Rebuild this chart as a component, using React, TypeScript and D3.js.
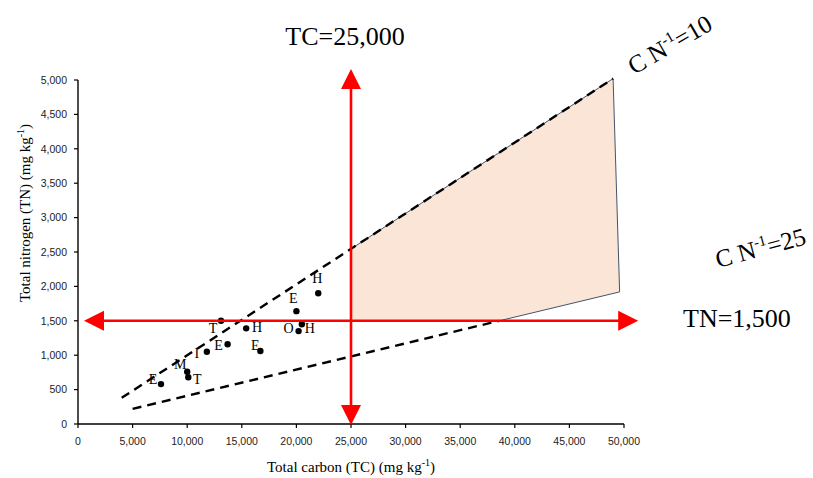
import React from "react";
import * as d3 from "d3";

const W = 813;
const H = 478;

// soil samples: land-use code, total carbon and total nitrogen (mg kg-1)
const sampleCodes = ["E", "M", "T", "I", "E", "T", "H", "E", "E", "H", "O", "H"];
const sampleTC = [7600, 10000, 10100, 11800, 13700, 13100, 15400, 16700, 20000, 22000, 20200, 20500];
const sampleTN = [580, 760, 680, 1050, 1160, 1500, 1390, 1060, 1640, 1900, 1350, 1450];

// small nudges (px) so each letter sits beside its dot
const labelNudge = [
  [-8, -5], [-7, -8], [9, 2], [-10, 1], [-9, 1], [-8, 7],
  [11, -1], [-5, -6], [-3, -13], [-1, -15], [-10, -3], [8, 4],
];

const xTicks = d3.range(0, 50001, 5000);
const yTicks = d3.range(0, 5001, 500);

// C:N guide lines, end points as [TC, TN]
const cn10TC = [4000, 49000];
const cn10TN = [380, 5020];
const cn25TC = [5000, 49600];
const cn25TN = [220, 1920];

const tcThreshold = 25000;
const tnThreshold = 1500;

const serif = "'Liberation Serif', 'Times New Roman', serif";
const sans = "'Liberation Sans', Arial, sans-serif";
const RED = "#ff0000";

const x = d3.scaleLinear().domain([0, 50000]).range([78, 624]);
const y = d3.scaleLinear().domain([0, 5000]).range([424, 80]);

// TN on a guide line at a given TC, and TC at a given TN
const tnAt = (tcs: number[], tns: number[], tc: number) =>
  tns[0] + ((tc - tcs[0]) * (tns[1] - tns[0])) / (tcs[1] - tcs[0]);
const tcAt = (tcs: number[], tns: number[], tn: number) =>
  tcs[0] + ((tn - tns[0]) * (tcs[1] - tcs[0])) / (tns[1] - tns[0]);

export default function App() {
  const line = d3.line<number[]>().x((d) => x(d[0])).y((d) => y(d[1]));

  const upperAt25 = tnAt(cn10TC, cn10TN, tcThreshold);
  const lowerAt15 = tcAt(cn25TC, cn25TN, tnThreshold);

  const zone = [
    [tcThreshold, upperAt25],
    [cn10TC[1], cn10TN[1]],
    [cn25TC[1], cn25TN[1]],
    [lowerAt15, tnThreshold],
    [tcThreshold, tnThreshold],
  ];
  const zoneEdge = zone.slice(0, 4);

  const upperDash = [
    [cn10TC[0], cn10TN[0]],
    [cn10TC[1], cn10TN[1]],
  ];
  const lowerDash = [
    [cn25TC[0], cn25TN[0]],
    [lowerAt15, tnThreshold],
  ];

  // red threshold arrows
  const hy = y(tnThreshold);
  const hx0 = x(550);
  const hx1 = x(51300);
  const vx = x(tcThreshold);
  const vy0 = y(5160);
  const vy1 = y(-15);
  const head = 20;
  const hw = 10;

  return (
    <svg width={W} height={H} style={{ position: "absolute", left: 0, top: 0, background: "#fff" }}>
      {/* target zone */}
      <path d={line(zone) + "Z"} fill="#fbe5d6" stroke="none" />
      <path d={line(zoneEdge) ?? ""} fill="none" stroke="#44546a" strokeWidth={1} />

      {/* C:N guide lines */}
      <path d={line(upperDash) ?? ""} fill="none" stroke="#000" strokeWidth={2.4} strokeDasharray="9,6" />
      <path d={line(lowerDash) ?? ""} fill="none" stroke="#000" strokeWidth={2.4} strokeDasharray="9,6" />

      {/* axes */}
      <line x1={x(0)} x2={x(50000)} y1={y(0)} y2={y(0)} stroke="#000" strokeWidth={1.4} />
      <line x1={x(0)} x2={x(0)} y1={y(0)} y2={y(5000)} stroke="#000" strokeWidth={1.4} />
      {xTicks.map((t) => (
        <g key={"x" + t}>
          <line x1={x(t)} x2={x(t)} y1={y(0)} y2={y(0) + 4} stroke="#000" strokeWidth={1.2} />
          <text x={x(t)} y={y(0) + 20.5} textAnchor="middle" fontFamily={sans} fontSize={10.5} fill="#222">
            {d3.format(",")(t)}
          </text>
        </g>
      ))}
      {yTicks.map((t) => (
        <g key={"y" + t}>
          <line x1={x(0) - 4} x2={x(0)} y1={y(t)} y2={y(t)} stroke="#000" strokeWidth={1.2} />
          <text x={x(0) - 11} y={y(t) + 3.8} textAnchor="end" fontFamily={sans} fontSize={10.5} fill="#222">
            {d3.format(",")(t)}
          </text>
        </g>
      ))}

      {/* axis titles */}
      <text x={351} y={472} textAnchor="middle" fontFamily={serif} fontSize={15} fill="#000">
        Total carbon (TC) (mg kg<tspan dy={-6} fontSize={10}>-1</tspan><tspan dy={6}>)</tspan>
      </text>
      <text transform="translate(30,213) rotate(-90)" textAnchor="middle" fontFamily={serif} fontSize={15} fill="#000">
        Total nitrogen (TN) (mg kg<tspan dy={-6} fontSize={10}>-1</tspan><tspan dy={6}>)</tspan>
      </text>

      {/* samples */}
      {sampleTC.map((tc, i) => (
        <g key={"p" + i}>
          <circle cx={x(tc)} cy={y(sampleTN[i])} r={3.2} fill="#000" />
          <text
            x={x(tc) + labelNudge[i][0]}
            y={y(sampleTN[i]) + labelNudge[i][1] + 5}
            textAnchor="middle"
            fontFamily={serif}
            fontSize={14}
            fill="#000"
          >
            {sampleCodes[i]}
          </text>
        </g>
      ))}

      {/* threshold arrows */}
      <line x1={hx0 + head - 1} x2={hx1 - head + 1} y1={hy} y2={hy} stroke={RED} strokeWidth={2.6} />
      <polygon points={`${hx0},${hy} ${hx0 + head},${hy - hw} ${hx0 + head},${hy + hw}`} fill={RED} />
      <polygon points={`${hx1},${hy} ${hx1 - head},${hy - hw} ${hx1 - head},${hy + hw}`} fill={RED} />
      <line x1={vx} x2={vx} y1={vy0 + head - 1} y2={vy1 - head + 1} stroke={RED} strokeWidth={2.6} />
      <polygon points={`${vx},${vy0} ${vx - hw},${vy0 + head} ${vx + hw},${vy0 + head}`} fill={RED} />
      <polygon points={`${vx},${vy1} ${vx - hw},${vy1 - head} ${vx + hw},${vy1 - head}`} fill={RED} />

      {/* annotations */}
      <text x={345} y={45} textAnchor="middle" fontFamily={serif} fontSize={26} fill="#000">
        TC=25,000
      </text>
      <text x={683} y={327} fontFamily={serif} fontSize={26} fill="#000">
        TN=1,500
      </text>
      <text transform="translate(634,75) rotate(-30)" fontFamily={serif} fontSize={25} fill="#000">
        C N<tspan dy={-10} fontSize={15}>-1</tspan><tspan dy={10}>=10</tspan>
      </text>
      <text transform="translate(718,268) rotate(-15)" fontFamily={serif} fontSize={25} fill="#000">
        C N<tspan dy={-10} fontSize={15}>-1</tspan><tspan dy={10}>=25</tspan>
      </text>
    </svg>
  );
}
